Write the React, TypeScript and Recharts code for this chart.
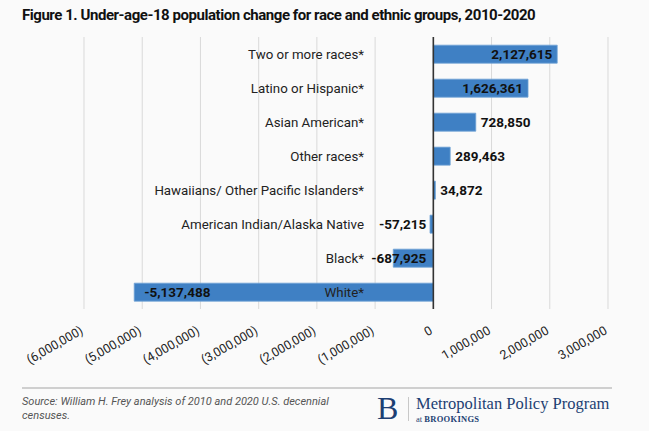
import React from "react";
import { BarChart, Bar, XAxis, YAxis, CartesianGrid, ReferenceLine, LabelList } from "recharts";

const groups = [
  "Two or more races*",
  "Latino or Hispanic*",
  "Asian American*",
  "Other races*",
  "Hawaiians/ Other Pacific Islanders*",
  "American Indian/Alaska Native",
  "Black*",
  "White*",
];
const change = [2127615, 1626361, 728850, 289463, 34872, -57215, -687925, -5137488];
const xTicks = [-6000000, -5000000, -4000000, -3000000, -2000000, -1000000, 0, 1000000, 2000000, 3000000];

const data = groups.map((group, i) => ({ group, value: change[i] }));

const FONT = "Roboto, 'Noto Sans', sans-serif";
const SERIF = "'Liberation Serif', 'DejaVu Serif', serif";
const BLUE = "#3f80c4";
const NAVY = "#1d3f73";
const CAT_LABEL_X = 364;

const fmtTick = (v: number) =>
  v < 0 ? `(${Math.abs(v).toLocaleString("en-US")})` : v.toLocaleString("en-US");

const AxisTick = (props: any) => {
  const { x, y, payload } = props;
  const ty = y + 16;
  return (
    <text
      x={x}
      y={ty}
      transform={`rotate(-30, ${x}, ${ty})`}
      textAnchor="end"
      fontSize={12.5}
      fontFamily={FONT}
      fill="#222"
    >
      {fmtTick(payload.value)}
    </text>
  );
};

const ValueLabel = (props: any) => {
  const { x, y, width, height, value } = props;
  const left = Math.min(x, x + width);
  const right = Math.max(x, x + width);
  const cy = y + height / 2;
  let tx: number;
  let anchor: "start" | "end";
  if (value >= 1000000) {
    tx = right - 5;
    anchor = "end";
  } else if (value >= 0) {
    tx = right + 5;
    anchor = "start";
  } else if (value <= -1000000) {
    tx = left + 10;
    anchor = "start";
  } else {
    tx = right - 7;
    anchor = "end";
  }
  return (
    <text
      x={tx}
      y={cy}
      dy="0.36em"
      textAnchor={anchor}
      fontSize={13.5}
      fontWeight={700}
      fontFamily={FONT}
      fill="#111"
    >
      {Number(value).toLocaleString("en-US")}
    </text>
  );
};

const GroupLabel = (props: any) => {
  const { y, height, value } = props;
  return (
    <text
      x={CAT_LABEL_X}
      y={y + height / 2}
      dy="0.36em"
      textAnchor="end"
      fontSize={13.3}
      fontFamily={FONT}
      fill="#222"
    >
      {value}
    </text>
  );
};

export default function App() {
  return (
    <div
      style={{
        position: "absolute",
        left: 0,
        top: 0,
        width: 649,
        height: 431,
        background: "#fafafa",
        fontFamily: FONT,
        overflow: "hidden",
      }}
    >
      <div
        style={{
          position: "absolute",
          left: 22,
          top: 6,
          fontSize: 15,
          fontWeight: 700,
          color: "#111",
          letterSpacing: -0.45,
          whiteSpace: "nowrap",
        }}
      >
        Figure 1. Under-age-18 population change for race and ethnic groups, 2010-2020
      </div>
      <BarChart
        width={649}
        height={431}
        data={data}
        layout="vertical"
        margin={{ top: 37, right: 41, bottom: 92, left: 84 }}
        barCategoryGap="24%"
      >
        <CartesianGrid horizontal={false} stroke="#d9d9d9" strokeWidth={1} />
        <XAxis
          type="number"
          domain={[-6000000, 3000000]}
          ticks={xTicks}
          interval={0}
          axisLine={false}
          tickLine={false}
          height={30}
          tick={<AxisTick />}
        />
        <YAxis type="category" dataKey="group" hide />
        <Bar dataKey="value" fill={BLUE} stroke="#6fa2d6" strokeWidth={0.8} isAnimationActive={false}>
          <LabelList dataKey="group" content={<GroupLabel />} />
          <LabelList dataKey="value" content={<ValueLabel />} />
        </Bar>
        <ReferenceLine x={0} stroke="#333" strokeWidth={1.6} />
      </BarChart>
      <div
        style={{
          position: "absolute",
          left: 22,
          top: 387,
          width: 590,
          height: 2,
          background: "#cfcfcf",
        }}
      />
      <div
        style={{
          position: "absolute",
          left: 22,
          top: 395,
          width: 330,
          fontSize: 11,
          fontStyle: "italic",
          color: "#555",
          lineHeight: "14px",
        }}
      >
        Source: William H. Frey analysis of 2010 and 2020 U.S. decennial censuses.
      </div>
      <div
        style={{
          position: "absolute",
          left: 377,
          top: 392,
          fontFamily: SERIF,
          fontSize: 32,
          color: NAVY,
          lineHeight: "32px",
        }}
      >
        B
      </div>
      <div
        style={{
          position: "absolute",
          left: 408,
          top: 397,
          width: 1,
          height: 24,
          background: "#c8c8c8",
        }}
      />
      <div
        style={{
          position: "absolute",
          left: 416,
          top: 394,
          fontFamily: SERIF,
          fontSize: 16.5,
          color: NAVY,
          whiteSpace: "nowrap",
          lineHeight: "20px",
        }}
      >
        Metropolitan Policy Program
      </div>
      <div
        style={{
          position: "absolute",
          left: 416,
          top: 414,
          fontFamily: SERIF,
          fontSize: 8.5,
          color: NAVY,
          whiteSpace: "nowrap",
          lineHeight: "10px",
        }}
      >
        at <span style={{ fontWeight: 700, letterSpacing: 0.3 }}>BROOKINGS</span>
      </div>
    </div>
  );
}
